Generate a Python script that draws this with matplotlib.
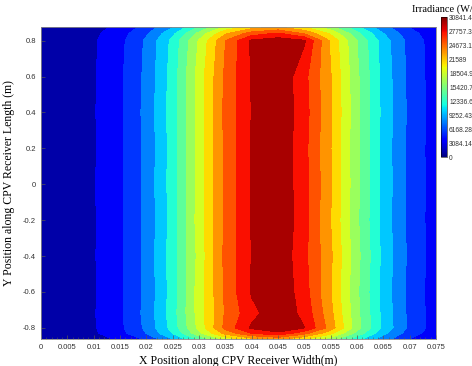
import numpy as np
import matplotlib
matplotlib.use("Agg")
import matplotlib.pyplot as plt
from matplotlib.ticker import MultipleLocator

# grid positions (m)
x_pos = [0, 0.005, 0.01, 0.015, 0.02, 0.025, 0.03, 0.035, 0.04,
         0.045, 0.05, 0.055, 0.06, 0.065, 0.07, 0.075]
y_pos = [-0.862, -0.83, -0.8, -0.72, -0.6, -0.4, -0.2, 0.0,
         0.2, 0.4, 0.6, 0.8, 0.84, 0.876]

# irradiance (W/m2), one row per y position
irradiance = [
    [590, 1040, 1480, 2500, 4800, 8900, 13600, 18300, 21300, 22600, 20100, 16400, 11800, 7560, 4430, 2440],
    [740, 1290, 1840, 3650, 6650, 11100, 17020, 22780, 26450, 28060, 25020, 20440, 14660, 9400, 5510, 3040],
    [800, 1400, 2000, 3900, 7100, 11900, 18300, 24900, 29000, 30600, 28700, 23200, 16300, 10400, 6100, 3350],
    [800, 1420, 2050, 4000, 7300, 12200, 18600, 24500, 27900, 30300, 28000, 22600, 16000, 10300, 6000, 3300],
    [780, 1380, 1950, 4050, 7150, 12000, 18700, 24600, 28900, 30500, 27400, 22100, 15800, 10100, 5900, 3250],
    [820, 1420, 2050, 3900, 7300, 12200, 18300, 24900, 28700, 30400, 27000, 22400, 16100, 10350, 6050, 3350],
    [790, 1390, 1980, 4050, 7150, 11900, 18700, 24600, 28800, 30600, 27300, 22000, 15800, 10100, 5950, 3280],
    [800, 1400, 2100, 3900, 7300, 12100, 18400, 24800, 28750, 30500, 27200, 22300, 15950, 10250, 6000, 3300],
    [780, 1380, 1950, 4050, 7150, 12000, 18600, 24700, 28900, 30600, 27100, 22100, 15850, 10150, 5950, 3280],
    [820, 1420, 2050, 3950, 7300, 12150, 18400, 24900, 28700, 30400, 27350, 22300, 16050, 10300, 6050, 3350],
    [790, 1390, 1980, 4000, 7150, 12000, 18600, 24650, 28850, 30600, 27100, 22150, 15850, 10200, 5950, 3280],
    [780, 1360, 1940, 3780, 6980, 11640, 17850, 24200, 29000, 29900, 28900, 21630, 15420, 9890, 5820, 3200],
    [700, 1220, 1740, 3390, 6290, 10480, 16070, 21670, 25300, 26700, 24000, 19400, 13830, 8870, 5220, 2870],
    [575, 1010, 1440, 2810, 5180, 8640, 13250, 17930, 20880, 22100, 19870, 16060, 11450, 7340, 4310, 2380],
]

cbar_ticks = [0, 3084.14, 6168.28, 9252.43, 12336.6, 15420.7, 18504.9,
              21589, 24673.1, 27757.3, 30841.4]
cbar_labels = ["0", "3084.14", "6168.28", "9252.43", "12336.6", "15420.7",
               "18504.9", "21589", "24673.1", "27757.3", "30841.4"]
vmax = 30841.4

fig = plt.figure(figsize=(4.72, 3.66), dpi=100)
ax = fig.add_axes([0.0869, 0.0738, 0.8369, 0.8525])

levels = np.linspace(0, vmax, 15)
ax.contourf(x_pos, y_pos, np.array(irradiance), levels=levels, cmap="jet")

ax.set_xlim(0, 0.075)
ax.set_ylim(-0.862, 0.876)
ax.set_xticks(x_pos)
ax.set_xticklabels(["0", "0.005", "0.01", "0.015", "0.02", "0.025", "0.03",
                    "0.035", "0.04", "0.045", "0.05", "0.055", "0.06",
                    "0.065", "0.07", "0.075"])
ax.set_yticks([-0.8, -0.6, -0.4, -0.2, 0, 0.2, 0.4, 0.6, 0.8])
ax.set_yticklabels(["-0.8", "-0.6", "-0.4", "-0.2", "0", "0.2", "0.4", "0.6", "0.8"])
ax.xaxis.set_minor_locator(MultipleLocator(0.001))
ax.tick_params(which="both", direction="in", colors="#555555", labelsize=5.5,
               labelcolor="#333333")
ax.tick_params(which="major", length=3, width=0.5)
ax.tick_params(which="minor", length=1.5, width=0.4)
for lab in ax.get_xticklabels() + ax.get_yticklabels():
    lab.set_fontfamily("Liberation Sans")
for s in ax.spines.values():
    s.set_linewidth(0.6)
    s.set_color("#888888")

ax.set_xlabel("X Position along CPV Receiver Width(m)", fontsize=8.5,
              family="Liberation Serif", labelpad=3)
ax.set_ylabel("Y Position along CPV Receiver Length (m)", fontsize=8.5,
              family="Liberation Serif", labelpad=6)

cax = fig.add_axes([0.9343, 0.571, 0.0127, 0.3825])
sm = plt.cm.ScalarMappable(cmap="jet", norm=plt.Normalize(0, vmax))
cb = fig.colorbar(sm, cax=cax, ticks=cbar_ticks)
cb.ax.set_yticklabels(cbar_labels)
cb.ax.tick_params(labelsize=4.8, length=0, pad=1.5, labelcolor="#333333")
for lab in cb.ax.get_yticklabels():
    lab.set_fontfamily("Liberation Sans")
cb.outline.set_linewidth(0.4)
fig.text(0.873, 0.962, "Irradiance (W/m²)", fontsize=7.5,
         family="Liberation Serif", ha="left", va="bottom")

fig.savefig("out.png", dpi=100)
